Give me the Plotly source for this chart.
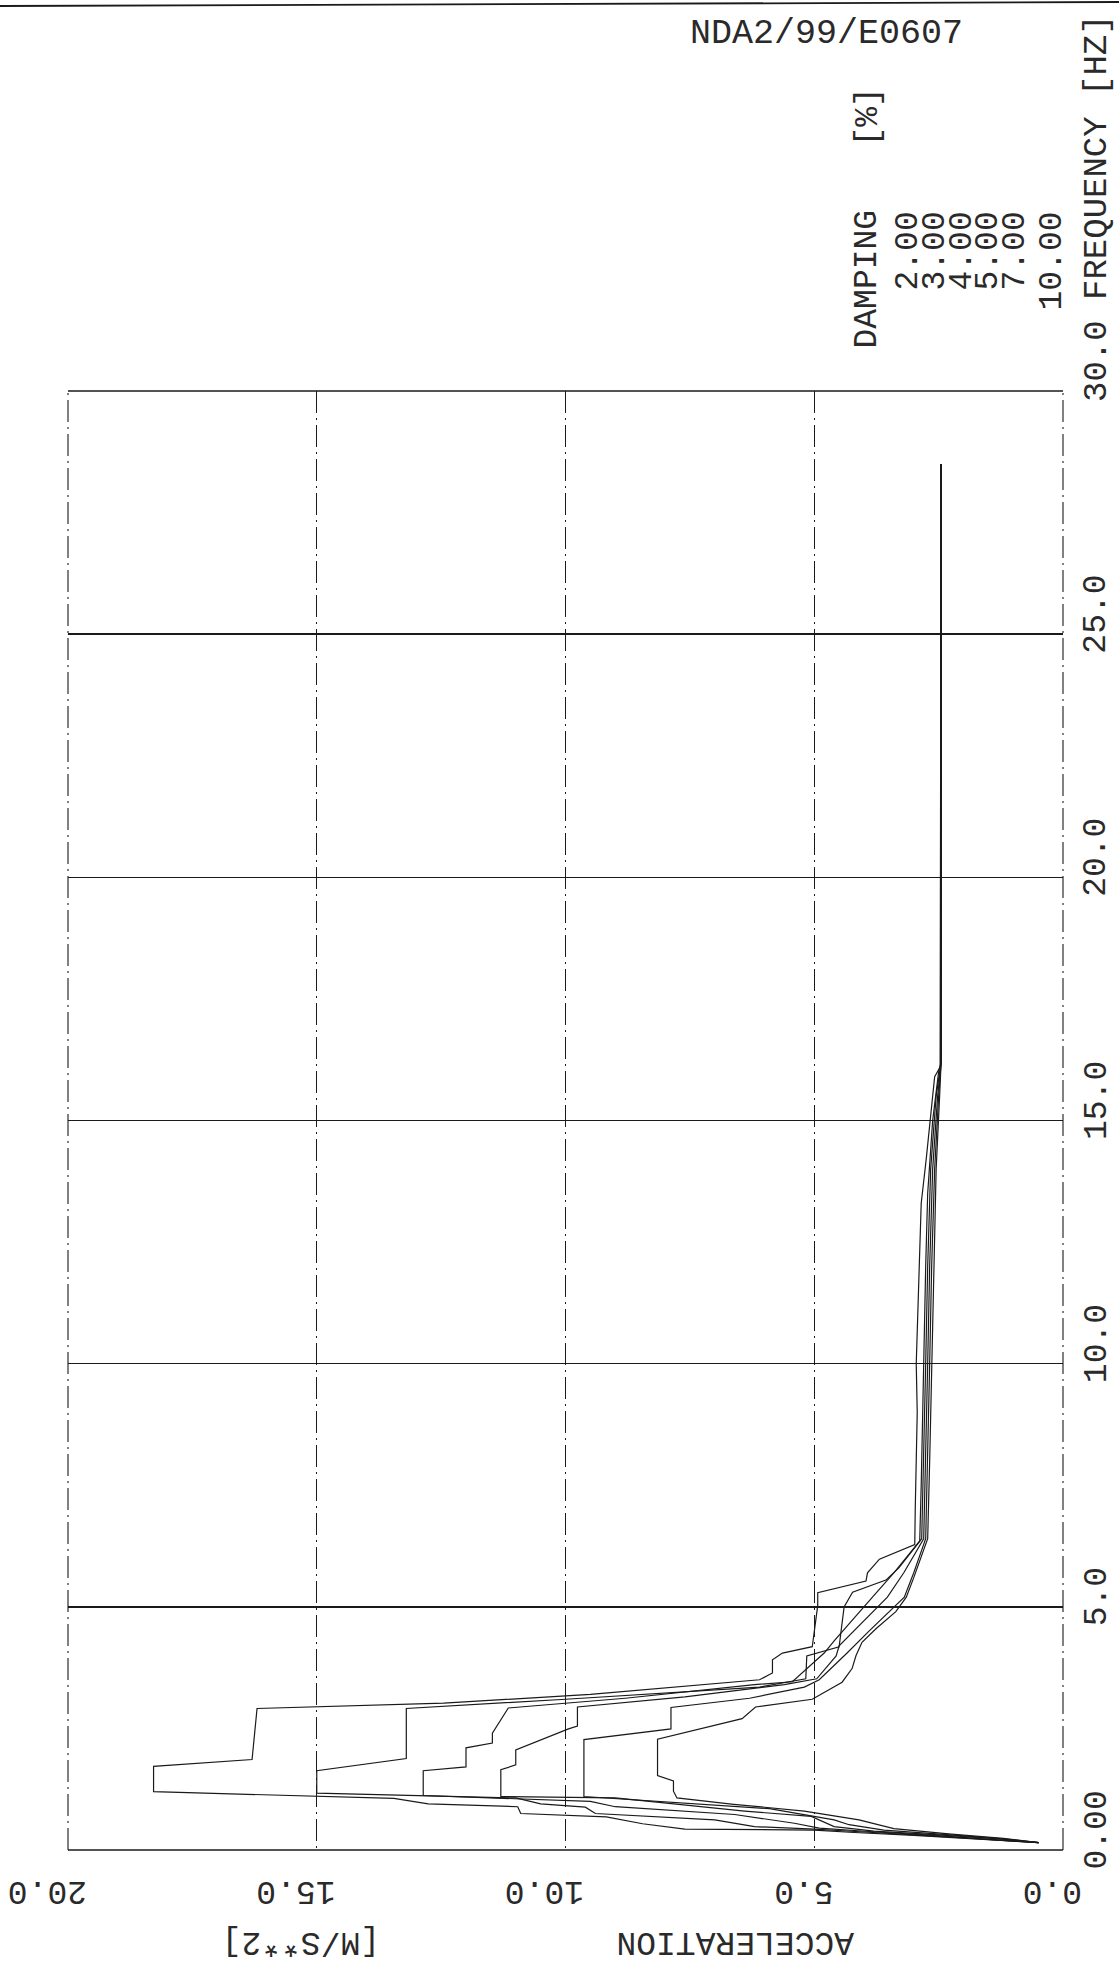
import plotly.graph_objects as go

# ---------------- data ----------------
damping_pct = [2.00, 3.00, 4.00, 5.00, 7.00, 10.00]
damping_labels = ["2.00", "3.00", "4.00", "5.00", "7.00", "10.00"]

freq_2 = [0.15, 0.22, 0.30, 0.36, 0.41, 0.43, 0.54, 0.68, 0.75, 0.89, 0.95, 1.06, 1.20, 1.72, 1.86,
          2.91, 3.02, 3.20, 3.43, 3.50, 3.64, 3.91, 4.05, 4.18, 5.03, 5.29, 5.53, 5.70, 5.98, 6.28,
          7.0, 8.0, 9.0, 10.0, 11.0, 12.0, 13.3, 14.2, 15.2, 15.9, 16.1, 28.5]
acc_2 = [0.49, 1.6, 3.0, 4.2, 5.0, 7.6, 8.45, 9.18, 10.9, 10.96, 12.76, 13.45, 18.28, 18.28, 16.3,
         16.2, 12.45, 9.5, 7.0, 6.1, 5.84, 5.84, 5.64, 5.04, 4.93, 4.93, 3.96, 3.93, 3.69, 2.98,
         2.97, 2.95, 2.93, 2.95, 2.92, 2.88, 2.85, 2.75, 2.65, 2.58, 2.47, 2.45]

freq_3 = [0.15, 0.22, 0.30, 0.37, 0.43, 0.48, 0.62, 0.75, 0.88, 0.95, 1.07, 1.17, 1.63, 1.88, 2.91,
          3.10, 3.35, 3.52, 3.99, 4.18, 5.0, 5.3, 5.55, 5.8, 6.35, 7.5, 9.0, 10.5, 12.0, 13.5,
          15.0, 16.0, 16.2, 28.5]
acc_3 = [0.49, 1.5, 2.8, 4.0, 5.0, 6.2, 7.0, 9.4, 9.6, 10.5, 11.0, 15.0, 15.0, 13.2, 13.2,
         10.0, 6.1, 5.17, 5.15, 4.5, 4.4, 4.23, 3.56, 3.3, 2.88, 2.85, 2.82, 2.8, 2.76, 2.72,
         2.62, 2.5, 2.45, 2.45]

freq_4 = [0.15, 0.22, 0.30, 0.38, 0.45, 0.55, 0.73, 0.89, 1.00, 1.12, 1.63, 1.71, 2.10, 2.20, 2.40,
          2.92, 3.12, 3.40, 3.46, 4.05, 4.30, 5.2, 5.7, 6.4, 8.0, 10.0, 12.0, 14.0, 15.5, 16.2, 28.5]
acc_4 = [0.49, 1.4, 2.6, 3.9, 4.9, 5.4, 6.6, 9.0, 9.5, 12.86, 12.86, 12.0, 12.0, 11.47, 11.47,
         11.15, 8.8, 6.2, 5.44, 4.8, 4.6, 3.83, 3.4, 2.84, 2.80, 2.76, 2.72, 2.66, 2.55, 2.45, 2.45]

freq_5 = [0.15, 0.23, 0.31, 0.39, 0.48, 0.69, 0.80, 0.94, 1.07, 1.10, 1.65, 1.75, 2.06, 2.49, 2.55,
          2.94, 3.15, 3.40, 3.52, 3.99, 4.20, 5.2, 5.7, 6.4, 8.0, 10.0, 12.0, 14.0, 15.5, 16.2, 28.5]
acc_5 = [0.49, 1.3, 2.5, 3.8, 4.6, 5.06, 6.4, 7.8, 9.0, 11.3, 11.3, 11.0, 11.0, 9.94, 9.76,
         9.76, 7.6, 5.6, 4.95, 4.56, 4.5, 3.53, 3.2, 2.8, 2.76, 2.72, 2.68, 2.62, 2.52, 2.45, 2.45]

freq_7 = [0.15, 0.23, 0.32, 0.41, 0.52, 0.62, 0.85, 0.98, 1.10, 2.27, 2.49, 2.93, 3.12, 3.35, 3.50,
          4.05, 4.50, 5.2, 5.7, 6.4, 8.0, 10.0, 12.0, 14.0, 15.5, 16.2, 28.5]
acc_7 = [0.49, 1.2, 2.4, 3.6, 4.3, 4.6, 5.9, 7.8, 9.63, 9.63, 7.88, 7.88, 6.3, 5.2, 4.9,
         4.34, 3.9, 3.19, 3.0, 2.76, 2.72, 2.68, 2.64, 2.58, 2.5, 2.45, 2.45]

freq_10 = [0.15, 0.24, 0.33, 0.44, 0.62, 0.80, 0.94, 1.07, 1.21, 1.42, 1.53, 2.28, 2.70, 2.94, 3.10,
           3.45, 3.73, 4.00, 4.27, 4.55, 4.90, 5.2, 5.6, 6.4, 8.0, 10.0, 12.0, 14.0, 15.5, 16.2, 28.5]
acc_10 = [0.49, 1.2, 2.3, 3.4, 4.1, 5.2, 6.62, 7.76, 7.83, 7.83, 8.15, 8.15, 6.45, 6.18, 5.04,
          4.44, 4.24, 4.16, 4.04, 3.76, 3.36, 3.15, 3.0, 2.72, 2.68, 2.64, 2.6, 2.55, 2.48, 2.45, 2.45]

acc_tick_values = [0, 5, 10, 15, 20]
acc_tick_labels = ["0.0", "5.0", "10.0", "15.0", "20.0"]
freq_tick_values = [0, 5, 10, 15, 20, 25]
freq_tick_labels = ["0.00", "5.0", "10.0", "15.0", "20.0", "25.0"]

series = [(freq_2, acc_2), (freq_3, acc_3), (freq_4, acc_4),
          (freq_5, acc_5), (freq_7, acc_7), (freq_10, acc_10)]

# ---------------- layout geometry ----------------
W, H = 1119, 1975
L, R, T, B = 68, 1063, 391, 1850
FONT = "Liberation Mono"
INK = "#1a1a1a"
TXT = "#2a2a2a"
FS = 33


def px(xp):
    return (xp - L) / (R - L)


def py(yp):
    return (B - yp) / (B - T)


fig = go.Figure()
for (f, a), d in zip(series, damping_pct):
    fig.add_trace(go.Scatter(x=a, y=f, mode="lines", name=f"{d:.2f}",
                             line=dict(color=INK, width=1.2), showlegend=False))

fig.update_layout(
    width=W, height=H,
    margin=dict(l=L, r=W - R, t=T, b=H - B, pad=0, autoexpand=False),
    paper_bgcolor="white", plot_bgcolor="white",
    font=dict(family=FONT, size=FS, color=TXT),
)

fig.update_xaxes(
    range=[20, 0], tickvals=acc_tick_values, showticklabels=False,
    ticks="", showline=False, zeroline=False, automargin=False,
    showgrid=True, gridcolor=INK, gridwidth=1.1, griddash="22px,5px,2px,5px",
)
fig.update_yaxes(
    range=[0, 30], side="right", tickvals=freq_tick_values, showticklabels=False,
    ticks="", showline=False, zeroline=False, automargin=False,
    showgrid=True, gridcolor=INK, gridwidth=1.5,
)

# frame: solid top/bottom, dash-dot left/right
fig.add_shape(type="line", xref="paper", yref="paper", x0=0, x1=1, y0=0, y1=0,
              line=dict(color=INK, width=1.6))
fig.add_shape(type="line", xref="paper", yref="paper", x0=0, x1=1, y0=1, y1=1,
              line=dict(color=INK, width=1.6))
fig.add_shape(type="line", xref="paper", yref="paper", x0=0, x1=0, y0=0, y1=1,
              line=dict(color=INK, width=1.1, dash="22px,5px,2px,5px"))
fig.add_shape(type="line", xref="paper", yref="paper", x0=1, x1=1, y0=0, y1=1,
              line=dict(color=INK, width=1.1, dash="22px,5px,2px,5px"))
# page edge line at the very top
fig.add_shape(type="line", xref="paper", yref="paper", x0=px(0), x1=px(W), y0=py(6), y1=py(2),
              line=dict(color=INK, width=1.8))

ann = []
# tick labels placed through the axes' own scales (plotter style: text starts just past the grid line)
for v, lab in zip(acc_tick_values, acc_tick_labels):
    ann.append(dict(text=lab, x=v, xref="x", y=py(1891), yref="paper",
                    xanchor="right", yanchor="middle", xshift=21, textangle=180,
                    showarrow=False, font=dict(family=FONT, size=FS, color=TXT)))
for v, lab in zip(freq_tick_values, freq_tick_labels):
    ann.append(dict(text=lab, x=px(1097), xref="paper", y=v, yref="y",
                    xanchor="center", yanchor="bottom", yshift=-22, textangle=-90,
                    showarrow=False, font=dict(family=FONT, size=FS, color=TXT)))

ann.append(dict(text="NDA2/99/E0607", x=px(826), y=py(34), xref="paper", yref="paper",
                xanchor="center", yanchor="middle", showarrow=False,
                font=dict(family=FONT, size=35, color=TXT)))
ann.append(dict(text="DAMPING", x=px(867), y=py(208), xref="paper", yref="paper",
                xanchor="center", yanchor="top", textangle=-90, showarrow=False,
                font=dict(family=FONT, size=FS, color=TXT)))
ann.append(dict(text="[%]", x=px(868), y=py(86), xref="paper", yref="paper",
                xanchor="center", yanchor="top", textangle=-90, showarrow=False,
                font=dict(family=FONT, size=FS, color=TXT)))
value_x = [908, 935, 962, 988, 1015, 1052]
for lab, xv in zip(damping_labels, value_x):
    ann.append(dict(text=lab, x=px(xv), y=py(210), xref="paper", yref="paper",
                    xanchor="center", yanchor="top", textangle=-90, showarrow=False,
                    font=dict(family=FONT, size=FS, color=TXT)))
ann.append(dict(text="30.0 FREQUENCY [HZ]", x=px(1097), y=py(404), xref="paper", yref="paper",
                xanchor="center", yanchor="bottom", textangle=-90, showarrow=False,
                font=dict(family=FONT, size=34, color=TXT)))
ann.append(dict(text="ACCELERATION", x=px(735), y=py(1942), xref="paper", yref="paper",
                xanchor="center", yanchor="middle", textangle=180, showarrow=False,
                font=dict(family=FONT, size=FS, color=TXT)))
ann.append(dict(text="[M/S**2]", x=px(301), y=py(1942), xref="paper", yref="paper",
                xanchor="center", yanchor="middle", textangle=180, showarrow=False,
                font=dict(family=FONT, size=FS, color=TXT)))
fig.update_layout(annotations=ann)

fig.write_html("out.html",
               config={"displayModeBar": False, "staticPlot": True},
               post_script="document.body.style.margin='0';"
                           "document.documentElement.style.overflow='hidden';")
